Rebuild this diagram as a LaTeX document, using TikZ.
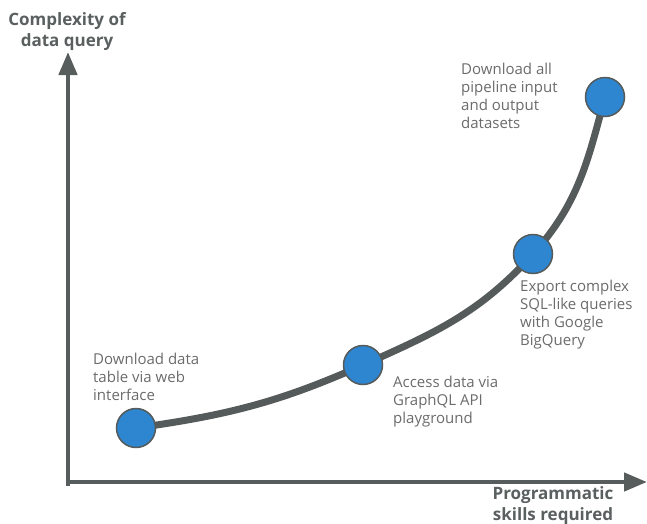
\documentclass[tikz,border=0pt]{standalone}
\usepackage{fontspec}
\setmainfont{Open Sans}
\usetikzlibrary{arrows.meta,backgrounds}
\definecolor{axisgray}{HTML}{575C5C}
\definecolor{curvegray}{HTML}{555A5A}
\definecolor{dotblue}{HTML}{2F86D0}
\definecolor{labgray}{HTML}{5A5F5F}
\definecolor{txtgray}{HTML}{6B6B6B}
\begin{document}
\begin{tikzpicture}[x=1pt,y=-1pt,
  axis/.style={draw=axisgray,line width=4.5pt,-{Triangle[length=23pt,width=18pt]}},
  curveline/.style={draw=curvegray,line width=7pt},
  dot/.style={circle,fill=dotblue,draw=curvegray,line width=1.5pt,minimum size=39pt,inner sep=0pt},
  note/.style={anchor=base west,align=left,inner sep=0pt,text=txtgray,font=\fontsize{15}{17.8}\selectfont},
  axlabel/.style={align=center,inner sep=0pt,text=labgray,font=\fontsize{17}{21}\selectfont\bfseries}
  ]
\useasboundingbox (0,0) rectangle (647,523);
\coordinate (ytip) at (68,52);
\coordinate (xtip) at (647,482);
\draw[axis] (68,486) -- (ytip);
\draw[axis] (66,482) -- (xtip);
\node[dot] (c1) at (136,428) {};
\node[dot] (c2) at (363,365) {};
\node[dot] (c3) at (533,254) {};
\node[dot] (c4) at (605,97) {};
\begin{scope}[on background layer]
\draw[curveline] (c1.center) to[out=8,in=204] (c2.center) to[out=24,in=228] (c3.center) to[out=48,in=255] (c4.center);
\end{scope}
\node[axlabel,anchor=base] (ylab) at (67,46) {Complexity of\\data query};
\node[axlabel,anchor=base] (xlab) at (553,520) {Programmatic\\skills required};
\node[note] (t1) at (93,400) {Download data\\table via web\\interface};
\node[note] (t2) at (393,423) {Access data via\\GraphQL API\\playground};
\node[note] (t3) at (520,345) {Export complex\\SQL-like queries\\with Google\\BigQuery};
\node[note] (t4) at (461,128) {Download all\\pipeline input\\and output\\datasets};
\end{tikzpicture}
\end{document}
